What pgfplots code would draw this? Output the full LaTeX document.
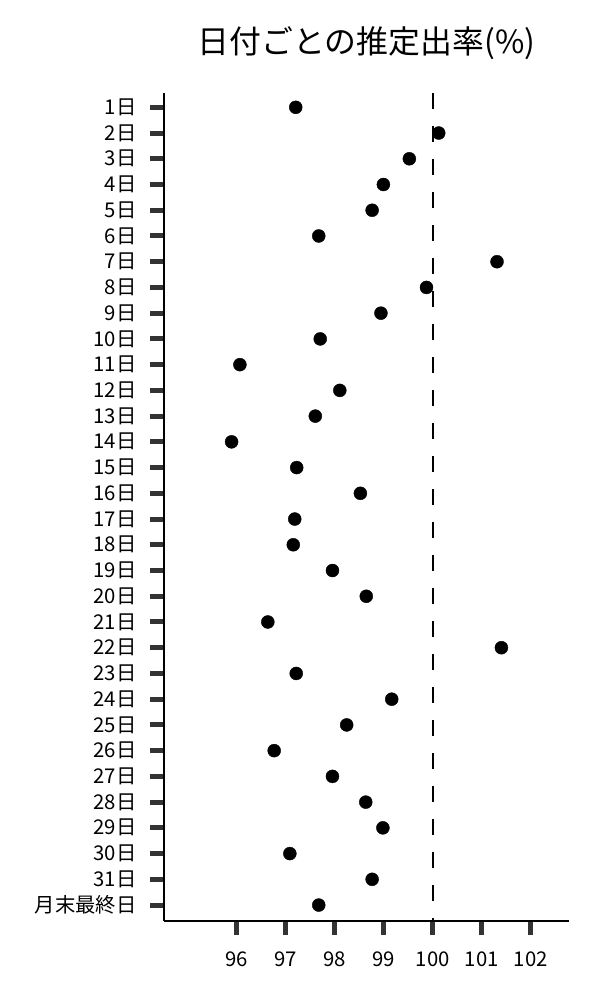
\documentclass[border=0pt]{standalone}
\usepackage{fontspec}
\setmainfont{Noto Sans CJK JP}
\usepackage{pgfplots}
\usepackage{pgfplotstable}
\pgfplotsset{compat=1.18}

\definecolor{tickgray}{HTML}{333333}

% estimated rate per day (%), row 1..32
\pgfplotstableread{
pos rate
1  97.20
2  100.12
3  99.52
4  98.99
5  98.76
6  97.67
7  101.31
8  99.87
9  98.94
10 97.70
11 96.06
12 98.10
13 97.60
14 95.89
15 97.22
16 98.52
17 97.18
18 97.15
19 97.95
20 98.64
21 96.63
22 101.40
23 97.21
24 99.16
25 98.24
26 96.76
27 97.95
28 98.63
29 98.98
30 97.08
31 98.76
32 97.67
}\ratetable

\begin{document}
\begin{tikzpicture}
\path[use as bounding box] (-164bp,-79bp) rectangle (436bp,921bp);
\begin{axis}[
    at={(0,0)}, anchor=south west,
    scale only axis,
    width=405bp, height=828bp,
    xmin=94.51, xmax=102.78,
    ymin=0.444, ymax=32.62,
    y dir=reverse,
    axis x line=bottom, axis y line=left,
    axis line style={-, line width=1.2bp, black},
    xtick={96,97,98,99,100,101,102},
    ytick={1,...,32},
    yticklabels={1日,2日,3日,4日,5日,6日,7日,8日,9日,10日,11日,12日,13日,14日,15日,16日,17日,18日,19日,20日,21日,22日,23日,24日,25日,26日,27日,28日,29日,30日,31日,月末最終日},
    tick align=outside,
    major tick length=14bp,
    tick style={line width=5bp, tickgray},
    ticklabel style={font=\fontsize{20.4}{24}\selectfont},
    xticklabel style={yshift=-13bp},
    yticklabel style={xshift=-10bp},
    /pgf/number format/assume math mode=true,
    title={日付ごとの推定出率(\%)},
    title style={font=\fontsize{32}{38}\selectfont, at={(axis description cs:0.5,1)}, anchor=center, yshift=44bp},
    clip=false,
]
\addplot[black, line width=2bp, dash pattern=on 16bp off 17bp] coordinates {(100,0.444) (100,32.62)};
\addplot[only marks, mark=*, mark size=6.5bp, black] table[x=rate, y=pos] {\ratetable};
\end{axis}
\end{tikzpicture}
\end{document}
